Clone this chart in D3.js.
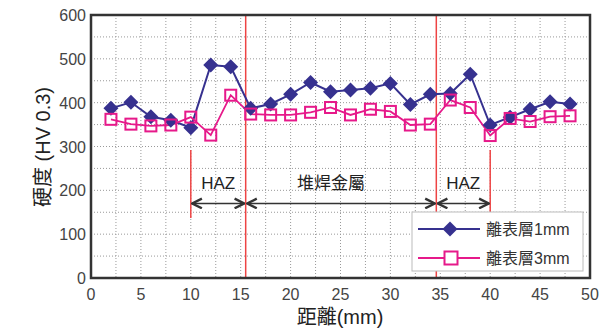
<!DOCTYPE html>
<html><head><meta charset="utf-8">
<script src="https://cdn.jsdelivr.net/npm/d3@7"></script>
<style>
body{margin:0;background:#fff;}
text{font-family:"Liberation Sans","Noto Sans CJK TC",sans-serif;}
</style></head>
<body><svg id="c" width="605" height="329"></svg>
<script>
const distance = [2,4,6,8,10,12,14,16,18,20,22,24,26,28,30,32,34,36,38,40,42,44,46,48];
const depth1mm = [387,401,368,360,343,486,482,387,397,419,446,425,429,433,444,396,419,421,465,349,367,385,402,397];
const depth3mm = [362,351,347,349,367,326,417,374,372,372,378,389,372,385,380,349,351,406,389,325,364,357,368,370];
const xTicks = [0,5,10,15,20,25,30,35,40,45,50];
const yTicks = [0,100,200,300,400,500,600];
const seriesNames = ["離表層1mm","離表層3mm"];
const zoneBounds = [10,15.5,34.6,40];
const zoneLabels = ["HAZ","堆焊金屬","HAZ"];

const svg = d3.select("#c");
const L=91,R=590,T=15,B=278;
const x = d3.scaleLinear().domain([0,50]).range([L,R]);
const y = d3.scaleLinear().domain([0,600]).range([B,T]);
const c1="#36318f", c2="#e6198a", red="#ee4444";

// grid
const g = svg.append("g");
d3.range(2.5,50,2.5).forEach(v=>{
  g.append("line").attr("x1",x(v)).attr("x2",x(v)).attr("y1",T).attr("y2",B)
   .attr("stroke","#999").attr("stroke-width",1).attr("stroke-dasharray","1,2");
});
d3.range(50,600,50).forEach(v=>{
  g.append("line").attr("x1",L).attr("x2",R).attr("y1",y(v)).attr("y2",y(v))
   .attr("stroke","#999").attr("stroke-width",1).attr("stroke-dasharray","1,2");
});

// zone lines
svg.append("line").attr("x1",x(zoneBounds[1])).attr("x2",x(zoneBounds[1])).attr("y1",T).attr("y2",B).attr("stroke",red).attr("stroke-width",1.5);
svg.append("line").attr("x1",x(zoneBounds[2])).attr("x2",x(zoneBounds[2])).attr("y1",T).attr("y2",B).attr("stroke",red).attr("stroke-width",1.5);
svg.append("line").attr("x1",x(zoneBounds[0])).attr("x2",x(zoneBounds[0])).attr("y1",y(292)).attr("y2",y(137)).attr("stroke",red).attr("stroke-width",1.5);
svg.append("line").attr("x1",x(zoneBounds[3])).attr("x2",x(zoneBounds[3])).attr("y1",y(292)).attr("y2",y(150)).attr("stroke",red).attr("stroke-width",1.5);

// arrows
const defs = svg.append("defs");
defs.append("marker").attr("id","ah").attr("viewBox","0 0 10 10").attr("refX",9).attr("refY",5)
  .attr("markerWidth",8).attr("markerHeight",8).attr("orient","auto-start-reverse")
  .append("path").attr("d","M1,1 L9,5 L1,9").attr("fill","none").attr("stroke","#333").attr("stroke-width",2);
const ay = y(170);
for(let i=0;i<3;i++){
  const x1=x(zoneBounds[i])+1.5, x2=x(zoneBounds[i+1])-1.5;
  svg.append("line").attr("x1",x1).attr("x2",x2).attr("y1",ay).attr("y2",ay)
   .attr("stroke","#333").attr("stroke-width",1.5)
   .attr("marker-start","url(#ah)").attr("marker-end","url(#ah)");
  svg.append("text").attr("x",(x(zoneBounds[i])+x(zoneBounds[i+1]))/2 + (i==1?-10:0)).attr("y",y(203))
   .attr("text-anchor","middle").attr("font-size",17).attr("fill","#222").text(zoneLabels[i]);
}

// series
const line = d3.line().x((d,i)=>x(distance[i])).y(d=>y(d));
svg.append("path").datum(depth1mm).attr("d",line).attr("fill","none").attr("stroke",c1).attr("stroke-width",2);
svg.append("path").datum(depth3mm).attr("d",line).attr("fill","none").attr("stroke",c2).attr("stroke-width",1.8);
const diamond = s=>`M0,${-s} L${s},0 L0,${s} L${-s},0Z`;
svg.selectAll(".d1").data(depth1mm).enter().append("path")
  .attr("d",diamond(7.5)).attr("transform",(d,i)=>`translate(${x(distance[i])},${y(d)})`).attr("fill",c1);
svg.selectAll(".d2").data(depth3mm).enter().append("rect")
  .attr("x",(d,i)=>x(distance[i])-5.5).attr("y",d=>y(d)-5.5).attr("width",11).attr("height",11)
  .attr("fill","none").attr("stroke",c2).attr("stroke-width",2);

// frame
svg.append("rect").attr("x",L).attr("y",T).attr("width",R-L).attr("height",B-T)
  .attr("fill","none").attr("stroke","#333").attr("stroke-width",2.5);

// ticks
svg.selectAll(".xt").data(xTicks).enter().append("text").attr("x",d=>x(d)).attr("y",B+22)
  .attr("text-anchor","middle").attr("font-size",16).attr("fill","#444").text(d=>d);
svg.selectAll(".yt").data(yTicks).enter().append("text").attr("x",L-5).attr("y",d=>y(d)+6)
  .attr("text-anchor","end").attr("font-size",16).attr("fill","#444").text(d=>d);

// axis titles
svg.append("text").attr("x",340).attr("y",324).attr("text-anchor","middle").attr("font-size",20).attr("fill","#222").text("距離(mm)");
svg.append("text").attr("transform","translate(50,147) rotate(-90)").attr("text-anchor","middle").attr("font-size",20).attr("fill","#222").text("硬度 (HV 0.3)");

// legend
const lg = svg.append("g");
lg.append("rect").attr("x",412).attr("y",212).attr("width",171).attr("height",59).attr("fill","#fff").attr("stroke","#bbb").attr("stroke-width",1);
[[229,c1,0],[258,c2,1]].forEach(([ly,col,i])=>{
  lg.append("line").attr("x1",418).attr("x2",480).attr("y1",ly).attr("y2",ly).attr("stroke",col).attr("stroke-width",2);
  if(i==0) lg.append("path").attr("d",diamond(7.5)).attr("transform",`translate(450,${ly})`).attr("fill",col);
  else lg.append("rect").attr("x",444.5).attr("y",ly-6.5).attr("width",13).attr("height",13).attr("fill","#fff").attr("stroke",col).attr("stroke-width",2);
  lg.append("text").attr("x",486).attr("y",ly+6).attr("font-size",16).attr("fill","#333").text(seriesNames[i]);
});
</script></body></html>
